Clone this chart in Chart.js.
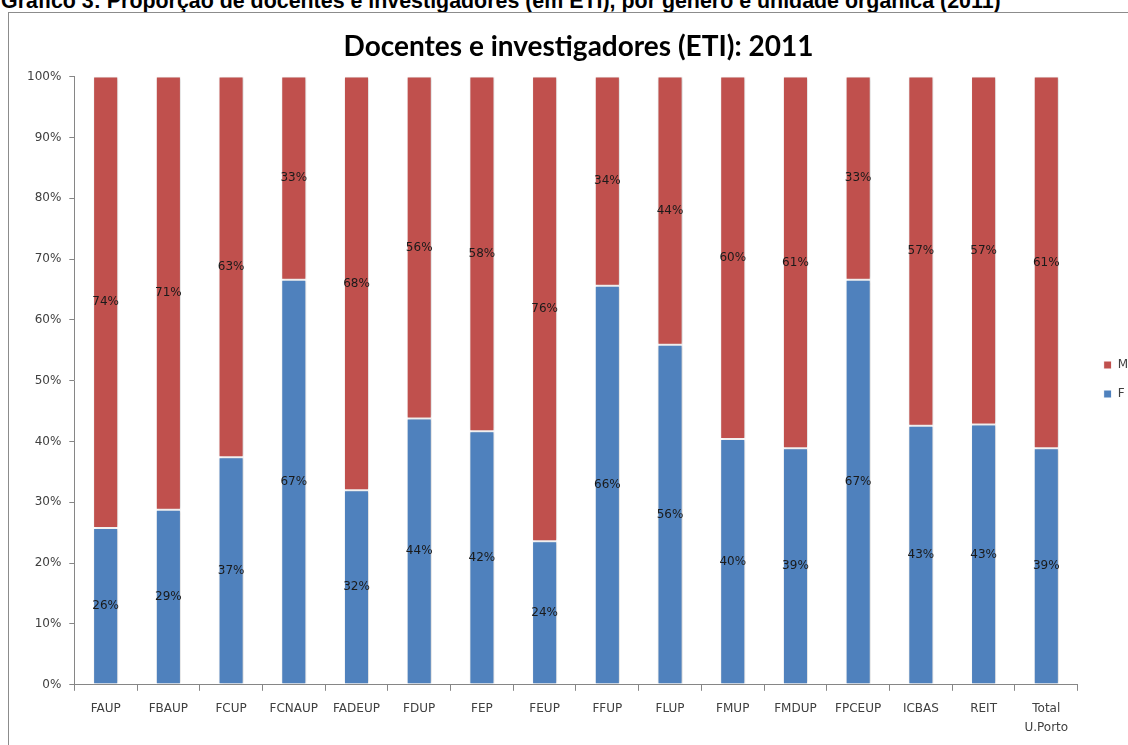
<!DOCTYPE html>
<html>
<head>
<meta charset="utf-8">
<script src="https://cdn.jsdelivr.net/npm/chart.js@4/dist/chart.umd.min.js"></script>
<style>
  html, body { margin: 0; padding: 0; background: #fff; overflow: hidden; }
  #caption {
    position: absolute; left: 1px; top: -9px;
    font: bold 21.4px/21px "Liberation Sans", Arial, sans-serif;
    color: #000; white-space: nowrap;
  }
  #frame {
    position: absolute; left: 8px; top: 12px; width: 1130px; height: 750px;
    border-left: 1px solid #8c8c8c; border-top: 1px solid #8c8c8c;
  }
  #wrap { position: absolute; left: 9px; top: 13px; width: 1129px; height: 739px; }
</style>
</head>
<body>
<div id="caption">Gráfico 3: Proporção de docentes e investigadores (em ETI), por género e unidade orgânica (2011)</div>
<div id="frame"></div>
<div id="wrap"><canvas id="chart"></canvas></div>
<script>
const units = ['FAUP', 'FBAUP', 'FCUP', 'FCNAUP', 'FADEUP', 'FDUP', 'FEP', 'FEUP',
  'FFUP', 'FLUP', 'FMUP', 'FMDUP', 'FPCEUP', 'ICBAS', 'REIT', ['Total', 'U.Porto']];

// % feminino / masculino (ETI)
const femValues = [25.8, 28.8, 37.4, 66.6, 32.0, 43.8, 41.7, 23.6, 65.6, 55.9, 40.4, 38.9, 66.6, 42.6, 42.8, 38.9];
const mascValues = [74.2, 71.2, 62.6, 33.4, 68.0, 56.2, 58.3, 76.4, 34.4, 44.1, 59.6, 61.1, 33.4, 57.4, 57.2, 61.1];

const RED = '#C0504D';
const BLUE = '#4F81BD';
const AXIS = '#868686';
const TXT = '#404040';
const FONT = 'DejaVu Sans';

const shadow = {
  id: 'shadow',
  beforeDatasetsDraw(chart) {
    const ctx = chart.ctx;
    ctx.save();
    ctx.shadowColor = 'rgba(0,0,0,0.22)';
    ctx.shadowBlur = 3;
    ctx.shadowOffsetX = 1;
    ctx.shadowOffsetY = 0;
  },
  afterDatasetsDraw(chart) {
    chart.ctx.restore();
  },
};

const segLabels = {
  id: 'segLabels',
  afterDatasetsDraw(chart) {
    const ctx = chart.ctx;
    ctx.save();
    ctx.font = `12px "${FONT}"`;
    ctx.fillStyle = '#1a1a1a';
    ctx.textAlign = 'center';
    ctx.textBaseline = 'middle';
    chart.data.datasets.forEach((ds, i) => {
      chart.getDatasetMeta(i).data.forEach((bar, j) => {
        const v = ds.data[j];
        ctx.fillText(Math.round(v) + '%', bar.x, (bar.y + bar.base) / 2);
      });
    });
    ctx.restore();
  },
};

new Chart(document.getElementById('chart'), {
  type: 'bar',
  data: {
    labels: units,
    datasets: [
      { label: 'F', data: femValues, backgroundColor: BLUE, borderColor: '#fff', borderWidth: 1, borderSkipped: false },
      { label: 'M', data: mascValues, backgroundColor: RED, borderColor: '#fff', borderWidth: 1, borderSkipped: false },
    ],
  },
  options: {
    responsive: true,
    maintainAspectRatio: false,
    animation: false,
    datasets: { bar: { categoryPercentage: 1, barPercentage: 0.4 } },
    layout: { padding: { left: 10, right: 0, top: 0, bottom: 6 } },
    scales: {
      x: {
        stacked: true,
        grid: { display: true, drawOnChartArea: false, color: AXIS, tickLength: 6 },
        border: { color: AXIS },
        ticks: { color: TXT, font: { family: FONT, size: 12, lineHeight: 1.55 }, padding: 9, maxRotation: 0, autoSkip: false },
      },
      y: {
        stacked: true,
        min: 0, max: 100,
        grid: { display: true, drawOnChartArea: false, color: AXIS, tickLength: 5 },
        border: { color: AXIS },
        ticks: { stepSize: 10, color: TXT, font: { family: FONT, size: 12 }, padding: 8, callback: v => v + '%' },
      },
      // empty right axis: only keeps a small gap before the legend
      gap: {
        position: 'right',
        display: true,
        grid: { display: false },
        border: { display: false },
        ticks: { display: false },
        afterFit: (s) => { s.width = 9; },
      },
    },
    plugins: {
      title: {
        display: true,
        text: 'Docentes e investigadores (ETI): 2011',
        color: '#000',
        font: { family: 'Lato', size: 28, weight: 'bold', lineHeight: 1.2 },
        padding: { top: 17, bottom: 13 },
      },
      legend: {
        position: 'right',
        reverse: true,
        labels: { color: TXT, font: { family: FONT, size: 12 }, boxWidth: 8, boxHeight: 8, padding: 17 },
      },
      tooltip: { enabled: false },
    },
  },
  plugins: [shadow, segLabels],
});
</script>
</body>
</html>
